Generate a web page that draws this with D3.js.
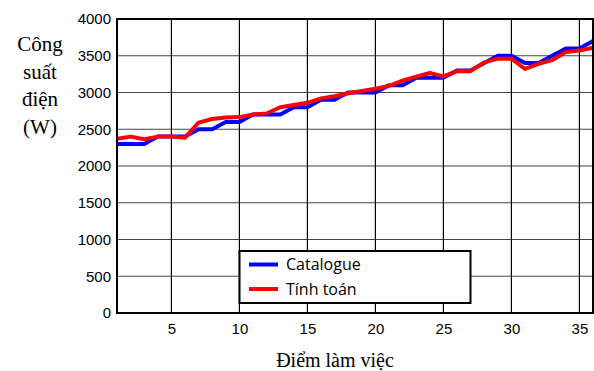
<!DOCTYPE html>
<html><head><meta charset="utf-8">
<script src="https://cdn.jsdelivr.net/npm/d3@7"></script>
<style>body{margin:0;background:#fff}</style>
</head><body>
<svg id="c" width="594" height="371"></svg>
<script>
const points = d3.range(1, 37);
const catalogue = [2300,2300,2300,2400,2400,2400,2500,2500,2600,2600,2700,2700,2700,2800,2800,2900,2900,3000,3000,3000,3100,3100,3200,3200,3200,3300,3300,3400,3500,3500,3400,3400,3500,3600,3600,3700];
const tinhToan = [2370,2400,2365,2400,2400,2385,2590,2640,2660,2665,2700,2715,2800,2830,2860,2920,2950,2990,3020,3050,3090,3160,3215,3265,3220,3290,3290,3410,3460,3460,3320,3390,3440,3550,3570,3610];
const xTicks = [5,10,15,20,25,30,35];
const yTicks = [0,500,1000,1500,2000,2500,3000,3500,4000];
const seriesNames = ["Catalogue","Tính toán"];
const colors = ["#0000ff","#ff0000"];

const L=117,R=593,T=19,B=313;
const svg=d3.select("#c");
const x=d3.scaleLinear().domain([1,36]).range([L,R]);
const y=d3.scaleLinear().domain([0,4000]).range([B,T]);

// grid
svg.append("g").selectAll("line").data(yTicks).join("line")
 .attr("x1",L).attr("x2",R).attr("y1",d=>y(d)).attr("y2",d=>y(d))
 .attr("stroke","#444").attr("stroke-width",1.2);
svg.append("g").selectAll("line").data(xTicks).join("line")
 .attr("y1",T).attr("y2",B).attr("x1",d=>x(d)).attr("x2",d=>x(d))
 .attr("stroke","#000").attr("stroke-width",1.2);

// axes labels
const yAxis=d3.axisLeft(y).tickValues(yTicks).tickFormat(d3.format("d")).tickSize(0).tickPadding(6);
const gy=svg.append("g").attr("transform",`translate(${L},0)`).call(yAxis);
const xAxis=d3.axisBottom(x).tickValues(xTicks).tickFormat(d3.format("d")).tickSize(0).tickPadding(10);
const gx=svg.append("g").attr("transform",`translate(0,${B})`).call(xAxis);
[gx,gy].forEach(g=>{g.select(".domain").remove();
 g.selectAll("text").attr("font-family","Liberation Sans, Arial, sans-serif").attr("font-size",15).attr("fill","#000");});

// lines
svg.append("clipPath").attr("id","clp").append("rect").attr("x",L).attr("y",T).attr("width",R-L).attr("height",B-T);
const line=d3.line().x((d,i)=>x(points[i])).y(d=>y(d));
[catalogue,tinhToan].forEach((s,k)=>{
 svg.append("path").attr("d",line(s)).attr("fill","none").attr("stroke",colors[k])
  .attr("stroke-width",4).attr("stroke-linejoin","round").attr("clip-path","url(#clp)");
});

// frame
svg.append("rect").attr("x",L).attr("y",T).attr("width",R-L).attr("height",B-T)
 .attr("fill","none").attr("stroke","#000").attr("stroke-width",2);

// legend
const lg=svg.append("g");
lg.append("rect").attr("x",239.5).attr("y",251).attr("width",231).attr("height",52)
 .attr("fill","#fff").attr("stroke","#000").attr("stroke-width",2);
seriesNames.forEach((n,k)=>{
 const yy=264.5+k*24.5;
 lg.append("line").attr("x1",249).attr("x2",278).attr("y1",yy).attr("y2",yy).attr("stroke",colors[k]).attr("stroke-width",4);
 lg.append("text").attr("x",286).attr("y",yy+5.5).text(n).attr("font-family","Open Sans, sans-serif").attr("font-size",16).attr("fill","#000");
});

// titles
const yt=["Công","suất","điện","(W)"];
svg.append("g").selectAll("text").data(yt).join("text")
 .attr("x",40).attr("y",(d,i)=>51+i*27.5).attr("text-anchor","middle")
 .attr("font-family","Liberation Serif, Times New Roman, serif").attr("font-size",21).text(d=>d);
svg.append("text").attr("x",335).attr("y",367).attr("text-anchor","middle")
 .attr("font-family","Liberation Serif, Times New Roman, serif").attr("font-size",20).text("Điểm làm việc");
</script>
</body></html>
